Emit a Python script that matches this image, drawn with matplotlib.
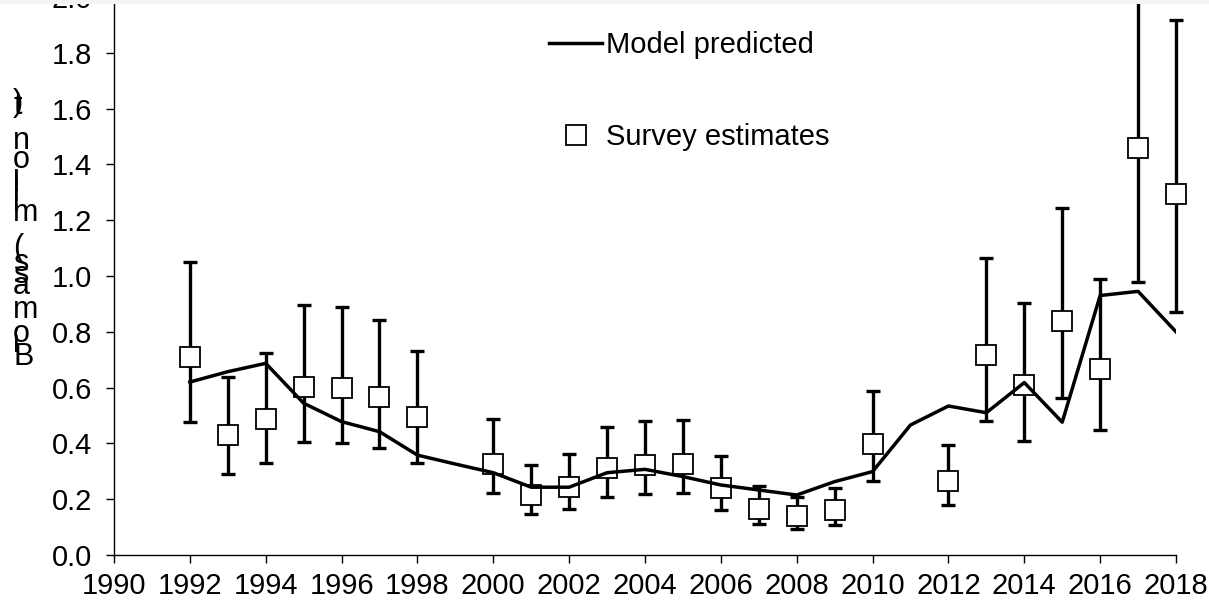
import matplotlib
matplotlib.use("Agg")
import matplotlib.pyplot as plt
from matplotlib.patches import Rectangle
import numpy as np

plt.rcParams['font.family'] = ['Liberation Sans', 'DejaVu Sans']

# ---- data ----
model_years = list(range(1992, 2019))
model_pred = [0.62, 0.657, 0.687, 0.544, 0.478, 0.442, 0.358, 0.326, 0.295, 0.243,
              0.243, 0.295, 0.307, 0.281, 0.251, 0.233, 0.215, 0.263, 0.299, 0.466,
              0.534, 0.510, 0.618, 0.476, 0.930, 0.945, 0.800]

survey_years = [1992, 1993, 1994, 1995, 1996, 1997, 1998, 2000, 2001, 2002, 2003, 2004,
                2005, 2006, 2007, 2008, 2009, 2010, 2012, 2013, 2014, 2015, 2016, 2017, 2018]
survey_est = [0.708, 0.430, 0.487, 0.603, 0.597, 0.567, 0.493, 0.326, 0.215, 0.243, 0.311, 0.323,
              0.326, 0.239, 0.165, 0.140, 0.161, 0.397, 0.266, 0.716, 0.609, 0.839, 0.667, 1.458, 1.293]
survey_low = [0.477, 0.289, 0.329, 0.405, 0.400, 0.382, 0.331, 0.221, 0.147, 0.165, 0.209, 0.219,
              0.221, 0.161, 0.111, 0.094, 0.106, 0.265, 0.179, 0.481, 0.410, 0.564, 0.448, 0.978, 0.870]
survey_up = [1.049, 0.637, 0.723, 0.896, 0.888, 0.842, 0.731, 0.489, 0.321, 0.361, 0.459, 0.479,
             0.484, 0.355, 0.247, 0.209, 0.239, 0.589, 0.393, 1.063, 0.904, 1.243, 0.990, 2.17, 1.918]

x_ticks = list(range(1990, 2019, 2))
y_ticks = [0.0, 0.2, 0.4, 0.6, 0.8, 1.0, 1.2, 1.4, 1.6, 1.8, 2.0]
y_label = "Biomass (million t)"
legend_labels = ["Model predicted", "Survey estimates"]

# ---- figure ----
W, H = 1209, 603
fig = plt.figure(figsize=(W / 100, H / 100), dpi=100)
ax = fig.add_axes([114 / W, 48 / H, 1062 / W, 558 / H])
ax.set_xlim(1990, 2018)
ax.set_ylim(0, 2.0)

est = np.array(survey_est)
lo = np.array(survey_low)
up = np.array(survey_up)

eb = ax.errorbar(survey_years, est, yerr=[est - lo, up - est], fmt='none', ecolor='black',
                 elinewidth=2.4, capsize=4.8, capthick=2.4, zorder=2)
for child in eb.get_children():
    child.set_clip_on(False)
pts, = ax.plot(survey_years, est, 's', ms=14, mfc='white', mec='black', mew=1.3,
               ls='none', zorder=3, label=legend_labels[1], clip_on=False)
line, = ax.plot(model_years, model_pred, color='black', lw=2.5, zorder=4,
                label=legend_labels[0])

for s in ['top', 'right']:
    ax.spines[s].set_visible(False)
for s in ['left', 'bottom']:
    ax.spines[s].set_linewidth(1.0)
    ax.spines[s].set_color('black')

ax.set_xticks(x_ticks)
ax.set_yticks(y_ticks)
ax.set_yticklabels([f"{v:.1f}" for v in y_ticks])
ax.tick_params(axis='both', direction='out', length=6, width=1, labelsize=21, colors='black')
ax.tick_params(axis='y', pad=10)
ax.tick_params(axis='x', pad=6)

leg = ax.legend(handles=[line, pts], loc='upper left',
                bbox_to_anchor=(549 / W, 1 - 31 / H), bbox_transform=fig.transFigure,
                frameon=False, borderpad=0, borderaxespad=0, handlelength=1.82,
                handletextpad=0.14, labelspacing=2.2, fontsize=21)

# stacked y label: characters upright, stacked bottom-to-top as in the reference
label_baselines = [365, 352, 342, 318, 294, 283, 271, None, 256, 221, 211, 201, 193, 186,
                   168, 149, None, 114, 111]
for ch, base in zip(y_label, label_baselines):
    if base is None:
        continue
    fig.text(13 / W, (H - base) / H, ch, ha='left', va='baseline', fontsize=22,
             color='black')

# light band at top edge
fig.patches.append(Rectangle((0, 1 - 4 / H), 1, 4 / H, transform=fig.transFigure,
                             facecolor='#f4f4f4', edgecolor='none', zorder=10))

fig.savefig("out.png", dpi=100)
